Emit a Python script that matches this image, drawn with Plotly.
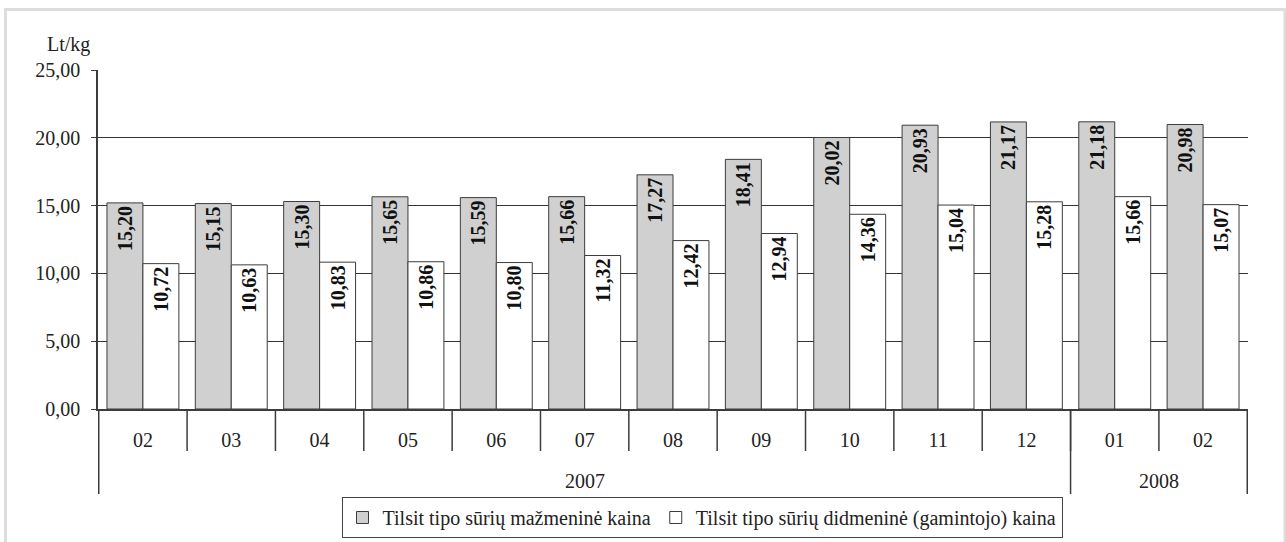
import plotly.graph_objects as go

months = ["02", "03", "04", "05", "06", "07", "08", "09", "10", "11", "12", "01", "02"]
years = ["2007"] * 11 + ["2008"] * 2
retail = [15.20, 15.15, 15.30, 15.65, 15.59, 15.66, 17.27, 18.41, 20.02, 20.93, 21.17, 21.18, 20.98]
wholesale = [10.72, 10.63, 10.83, 10.86, 10.80, 11.32, 12.42, 12.94, 14.36, 15.04, 15.28, 15.66, 15.07]
name_retail = "Tilsit tipo sūrių mažmeninė kaina"
name_whole = "Tilsit tipo sūrių didmeninė (gamintojo) kaina"

FONT = "Liberation Serif, Times New Roman, serif"
FS = 20
W, H = 1286, 542
L, R, T, B = 98, 38, 70, 133
pw, ph = W - L - R, H - T - B
LINE = "#3c3c3c"
TXT = "#222222"

keys = [f"{y}-{m}" for y, m in zip(years, months)]

fig = go.Figure()
for name, vals, color in [(name_retail, retail, "#d0d0d0"), (name_whole, wholesale, "#ffffff")]:
    fig.add_trace(go.Bar(
        x=keys, y=vals, name=name,
        marker=dict(color=color, line=dict(color=LINE, width=1)),
        text=[f"{v:.2f}".replace(".", ",") for v in vals],
        textposition="inside", insidetextanchor="end", textangle=-90,
        textfont=dict(family=FONT, size=FS, color="#111111", weight="bold"),
    ))

def px_x(p):
    return (p - L) / pw

def px_y(p):
    return (H - B - p) / ph

shapes = [dict(type="rect", xref="paper", yref="paper",
               x0=px_x(5.5), x1=px_x(1285), y0=px_y(560), y1=px_y(9.5),
               line=dict(color="#dddddd", width=3), layer="below")]
# month boundaries
for i in range(1, len(keys)):
    shapes.append(dict(type="line", xref="x", yref="paper", x0=i - 0.5, x1=i - 0.5,
                       y0=0, y1=px_y(451), line=dict(color=LINE, width=1.5)))
# year boundaries
year_names = []
for y in years:
    if y not in year_names:
        year_names.append(y)
bounds = [-0.5]
for yn in year_names:
    bounds.append(bounds[-1] + years.count(yn))
for b in bounds:
    shapes.append(dict(type="line", xref="x", yref="paper", x0=b, x1=b,
                       y0=0, y1=px_y(494), line=dict(color=LINE, width=1.5)))

annotations = [dict(text="Lt/kg", xref="paper", yref="paper", x=px_x(68), y=px_y(45),
                    xanchor="center", yanchor="middle", showarrow=False,
                    font=dict(family=FONT, size=FS, color=TXT))]
for yn, b0, b1 in zip(year_names, bounds[:-1], bounds[1:]):
    annotations.append(dict(text=yn, xref="x", yref="paper", x=(b0 + b1) / 2, y=px_y(481),
                            xanchor="center", yanchor="middle", showarrow=False,
                            font=dict(family=FONT, size=FS, color=TXT)))

fig.update_layout(
    width=W, height=H,
    margin=dict(l=L, r=R, t=T, b=B),
    paper_bgcolor="white", plot_bgcolor="white",
    barmode="group", bargap=0.186, bargroupgap=0,
    separators=", ",
    font=dict(family=FONT, size=FS, color=TXT),
    showlegend=True,
    legend=dict(orientation="h", xref="container", yref="container",
                x=702 / W, xanchor="center", y=1 - 497 / H, yanchor="top",
                bordercolor="#444444", borderwidth=1, font=dict(family=FONT, size=FS, color=TXT),
                itemwidth=30, traceorder="normal", tracegroupgap=0),
    uniformtext=dict(minsize=10, mode="show"),
    shapes=shapes,
    annotations=annotations,
)
fig.update_yaxes(range=[0, 25], dtick=5, tickformat=".2f", showgrid=True,
                 gridcolor="#333333", gridwidth=1, showline=True, linecolor=LINE,
                 linewidth=1.5, ticks="outside", ticklen=5, tickcolor=LINE,
                 ticklabelstandoff=7, zeroline=False, automargin=False,
                 tickfont=dict(family=FONT, size=FS, color=TXT))
fig.update_xaxes(type="category", tickvals=keys, ticktext=months, showline=True,
                 linecolor=LINE, linewidth=1.5, ticks="", ticklabelstandoff=12,
                 automargin=False, tickfont=dict(family=FONT, size=FS, color=TXT))

fig.write_html("out.html", config={"displayModeBar": False},
               post_script="document.body.style.margin='0';")
